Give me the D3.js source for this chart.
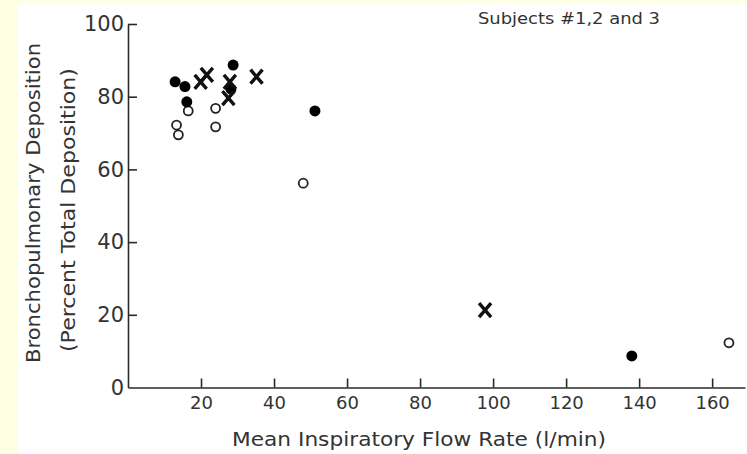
<!DOCTYPE html>
<html>
<head>
<meta charset="utf-8">
<script src="https://cdn.jsdelivr.net/npm/d3@7"></script>
<style>
  body { margin: 0; background: #ffffe3; }
  svg { display: block; }
  .axis path, .axis line { stroke: #2a2a2a; stroke-width: 1.6; }
  .axis text { fill: #333; font-family: "DejaVu Sans", sans-serif; }
</style>
</head>
<body>
<svg id="chart" width="747" height="454"></svg>
<script>
// values (flow rate l/min, deposition %)
const solidX = [12.9, 15.6, 16.1, 28.8, 28.2, 51.2, 138];
const solidY = [84.1, 82.8, 78.6, 88.7, 82.1, 76.1, 8.7];

const openX = [16.5, 13.3, 13.8, 24.0, 24.0, 48.0, 164.6];
const openY = [76.1, 72.2, 69.5, 76.8, 71.7, 56.2, 12.3];

const crossX = [19.9, 21.6, 27.9, 27.5, 35.2, 97.8];
const crossY = [84.1, 86.0, 84.1, 79.6, 85.5, 21.3];

const xTicks = [20, 40, 60, 80, 100, 120, 140, 160];
const yTicks = [0, 20, 40, 60, 80, 100];

const svg = d3.select("#chart");

// page background + white sheet
svg.append("rect").attr("width", 747).attr("height", 454).attr("fill", "#ffffe3");
svg.append("rect").attr("x", 18).attr("y", 4).attr("width", 729).attr("height", 450).attr("fill", "#fff");

const x = d3.scaleLinear().domain([0, 169]).range([128, 745]);
const y = d3.scaleLinear().domain([0, 100]).range([387.5, 24]);

// x axis, ticks pointing inward
const gx = svg.append("g")
  .attr("class", "axis")
  .attr("transform", `translate(0,${y(0)})`)
  .call(d3.axisBottom(x).tickValues(xTicks).tickSize(-9).tickSizeOuter(0).tickPadding(9));
gx.selectAll("text").style("font-size", "18px");

// y axis
const gy = svg.append("g")
  .attr("class", "axis")
  .attr("transform", `translate(${x(0)},0)`)
  .call(d3.axisLeft(y).tickValues(yTicks).tickSize(-9).tickSizeOuter(0).tickPadding(4));
gy.selectAll("text").style("font-size", "21px");
gy.selectAll(".tick").filter(d => d === 0).select("line").remove();

// axis titles
svg.append("text")
  .attr("x", 419).attr("y", 446)
  .attr("text-anchor", "middle")
  .attr("textLength", 374).attr("lengthAdjust", "spacingAndGlyphs")
  .style("font-family", "DejaVu Sans, sans-serif").style("font-size", "19px").attr("fill", "#333")
  .text("Mean Inspiratory Flow Rate (l/min)");

svg.append("text")
  .attr("transform", "translate(40,203) rotate(-90)")
  .attr("text-anchor", "middle")
  .attr("textLength", 320).attr("lengthAdjust", "spacingAndGlyphs")
  .style("font-family", "DejaVu Sans, sans-serif").style("font-size", "19px").attr("fill", "#333")
  .text("Bronchopulmonary Deposition");

svg.append("text")
  .attr("transform", "translate(75,210) rotate(-90)")
  .attr("text-anchor", "middle")
  .attr("textLength", 284).attr("lengthAdjust", "spacingAndGlyphs")
  .style("font-family", "DejaVu Sans, sans-serif").style("font-size", "19px").attr("fill", "#333")
  .text("(Percent Total Deposition)");

svg.append("text")
  .attr("x", 478).attr("y", 24)
  .attr("textLength", 182).attr("lengthAdjust", "spacingAndGlyphs")
  .style("font-family", "DejaVu Sans, sans-serif").style("font-size", "16px").attr("fill", "#333")
  .text("Subjects #1,2 and 3");

// open circles
svg.selectAll(".open")
  .data(d3.zip(openX, openY))
  .join("circle")
  .attr("class", "open")
  .attr("cx", d => x(d[0]))
  .attr("cy", d => y(d[1]))
  .attr("r", 4.5)
  .attr("fill", "#fff")
  .attr("stroke", "#222")
  .attr("stroke-width", 1.8);

// solid circles
svg.selectAll(".solid")
  .data(d3.zip(solidX, solidY))
  .join("circle")
  .attr("class", "solid")
  .attr("cx", d => x(d[0]))
  .attr("cy", d => y(d[1]))
  .attr("r", 5.5)
  .attr("fill", "#000");

// crosses
svg.selectAll(".cross")
  .data(d3.zip(crossX, crossY))
  .join("path")
  .attr("class", "cross")
  .attr("d", d => {
    const cx = x(d[0]), cy = y(d[1]);
    return `M${cx - 6},${cy - 7}L${cx + 6},${cy + 7}M${cx + 6},${cy - 7}L${cx - 6},${cy + 7}`;
  })
  .attr("stroke", "#111")
  .attr("stroke-width", 3.4)
  .attr("fill", "none");
</script>
</body>
</html>
